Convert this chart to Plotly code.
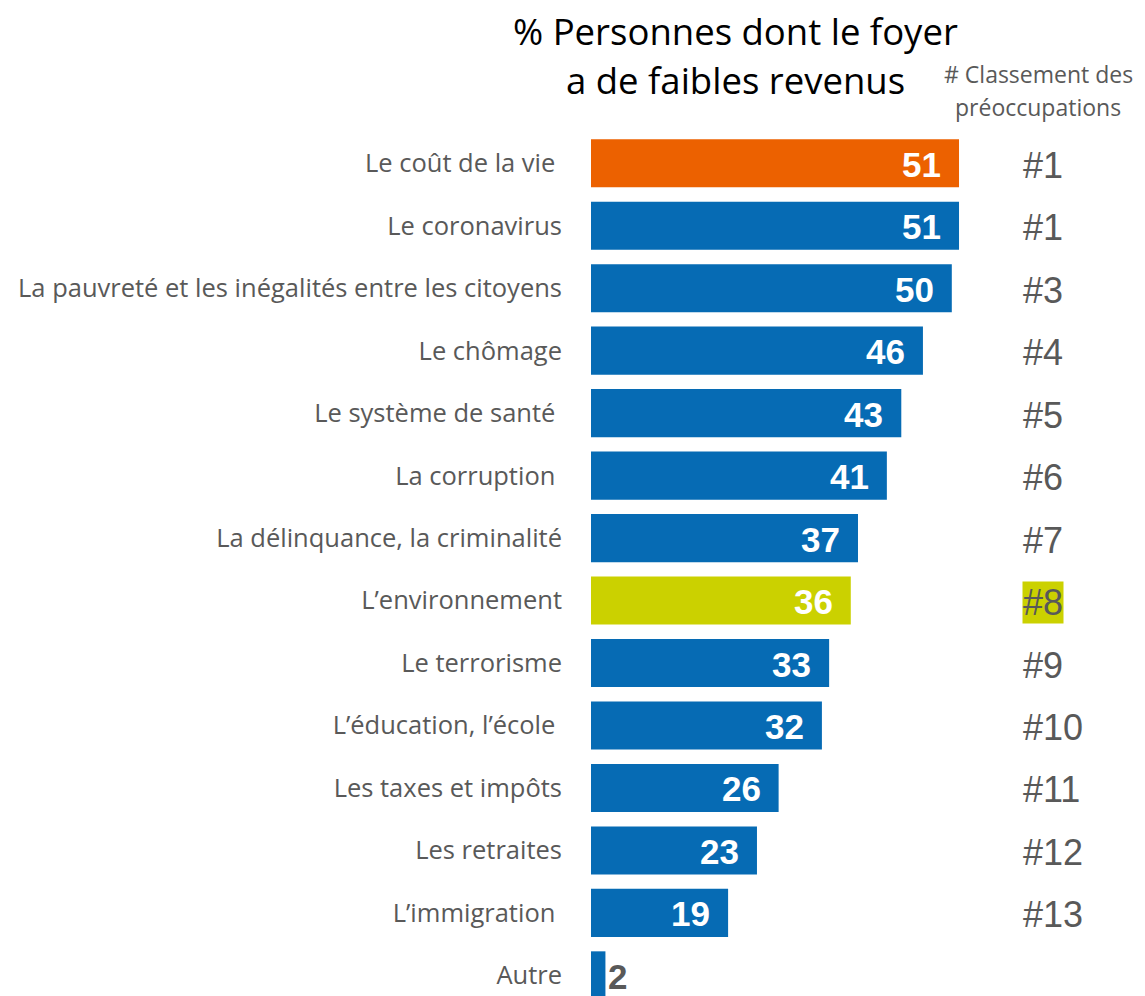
import plotly.graph_objects as go

categories = [
    "Le coût de la vie ",
    "Le coronavirus",
    "La pauvreté et les inégalités entre les citoyens",
    "Le chômage",
    "Le système de santé ",
    "La corruption ",
    "La délinquance, la criminalité",
    "L’environnement",
    "Le terrorisme",
    "L’éducation, l’école ",
    "Les taxes et impôts",
    "Les retraites",
    "L’immigration ",
    "Autre",
]
values = [51, 51, 50, 46, 43, 41, 37, 36, 33, 32, 26, 23, 19, 2]
ranks = ["#1", "#1", "#3", "#4", "#5", "#6", "#7", "#8", "#9", "#10", "#11", "#12", "#13", ""]
title_lines = ["% Personnes dont le foyer", "a de faibles revenus"]
subtitle_lines = ["# Classement des", "préoccupations"]

BLUE = "#066BB4"
ORANGE = "#EC6100"
LIME = "#CBD100"
GREY = "#595959"

W, H = 1145, 996
ML, MT = 591, 132
PW, PH = W - ML, H - MT


def px_x(px):
    return (px - ML) / PW


def px_y(py):
    return 1 + (MT - py) / PH


colors = [BLUE] * len(categories)
colors[0] = ORANGE
colors[7] = LIME

fig = go.Figure()
fig.add_trace(go.Bar(
    x=values, y=categories, orientation="h",
    marker=dict(color=colors, line=dict(width=0)),
    hoverinfo="x+y",
))

annotations = []
for c, v, r in zip(categories, values, ranks):
    if v >= 10:
        annotations.append(dict(x=v, y=c, xref="x", yref="y", text=f"<b>{v}</b>",
                                showarrow=False, xanchor="right", xshift=-16, yshift=-1,
                                font=dict(family="Liberation Sans, Arial", size=35, color="white")))
    else:
        annotations.append(dict(x=v, y=c, xref="x", yref="y", text=f"<b>{v}</b>",
                                showarrow=False, xanchor="left", xshift=1, yshift=-1,
                                font=dict(family="Liberation Sans, Arial", size=35, color=GREY)))
    if r:
        annotations.append(dict(x=59.73, y=c, xref="x", yref="y", text=r,
                                showarrow=False, xanchor="left", borderpad=0, yshift=-2,
                                bgcolor=LIME if r == "#8" else None,
                                font=dict(family="Liberation Sans, Arial", size=36, color=GREY)))

for line, py in zip(title_lines, [31, 80]):
    annotations.append(dict(x=px_x(735), y=px_y(py), xref="paper", yref="paper",
                            text=line, showarrow=False, xanchor="center", yanchor="middle",
                            font=dict(family="Open Sans", size=36.5, color="black")))
for line, py in zip(subtitle_lines, [74, 107]):
    annotations.append(dict(x=px_x(1038), y=px_y(py), xref="paper", yref="paper",
                            text=line, showarrow=False, xanchor="center", yanchor="middle",
                            font=dict(family="Open Sans", size=23, color=GREY)))

fig.update_layout(
    width=W, height=H,
    margin=dict(l=ML, r=0, t=MT, b=0),
    paper_bgcolor="white", plot_bgcolor="white",
    bargap=0.23,
    showlegend=False,
    annotations=annotations,
    xaxis=dict(range=[0, PW / 7.216], visible=False, fixedrange=True),
    yaxis=dict(range=[13.33, -0.5], type="category", showgrid=False, zeroline=False,
               showline=False, ticks="", ticklabelstandoff=28, fixedrange=True,
               tickfont=dict(family="Open Sans", size=25.5, color=GREY)),
)

fig.write_html("out.html", config={"displayModeBar": False},
               post_script="document.body.style.margin='0';document.body.style.overflow='hidden';")
